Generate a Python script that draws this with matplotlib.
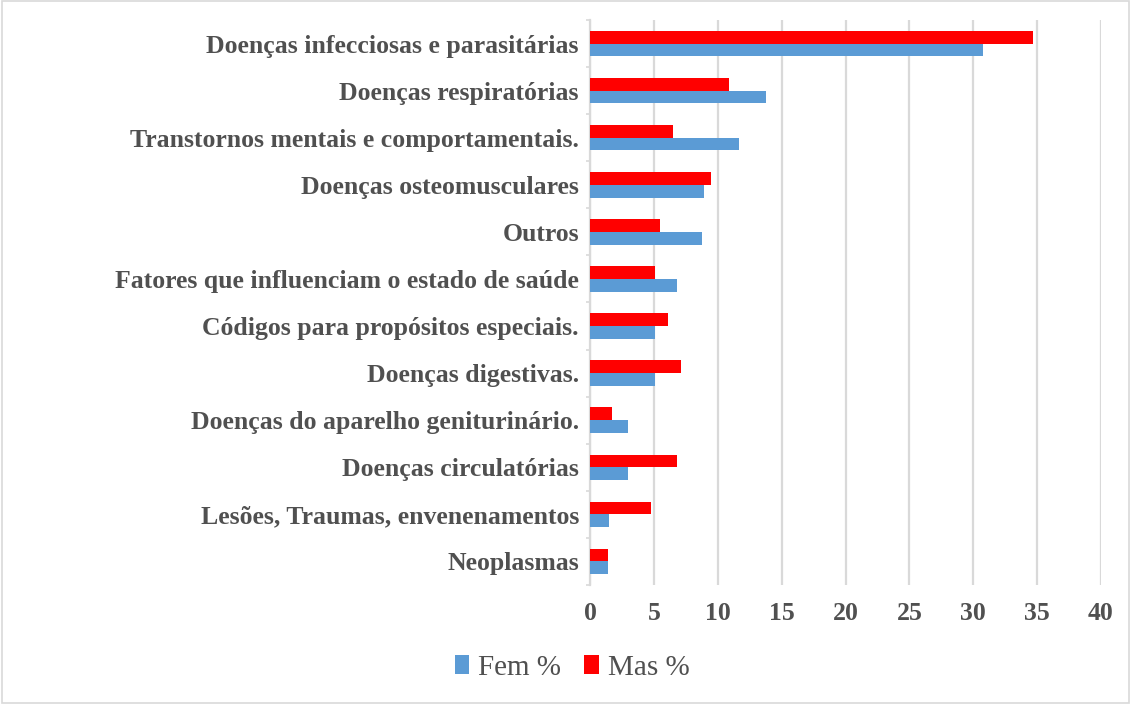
import matplotlib.pyplot as plt
import numpy as np
from matplotlib.patches import Rectangle

# categories top to bottom
categories = [
    "Doenças infecciosas e parasitárias",
    "Doenças respiratórias",
    "Transtornos mentais e comportamentais.",
    "Doenças osteomusculares",
    "Outros",
    "Fatores que influenciam o estado de saúde",
    "Códigos para propósitos especiais.",
    "Doenças digestivas.",
    "Doenças do aparelho geniturinário.",
    "Doenças circulatórias",
    "Lesões, Traumas, envenenamentos",
    "Neoplasmas",
]
fem_pct = [30.8, 13.8, 11.7, 8.9, 8.8, 6.8, 5.1, 5.1, 3.0, 3.0, 1.5, 1.4]
mas_pct = [34.7, 10.9, 6.5, 9.5, 5.5, 5.1, 6.1, 7.1, 1.7, 6.8, 4.8, 1.4]
x_ticks = [0, 5, 10, 15, 20, 25, 30, 35, 40]

FEM_COLOR = "#5b9bd5"
MAS_COLOR = "#ff0000"
GRID_COLOR = "#d9d9d9"
TEXT_COLOR = "#505050"

plt.rcParams["font.family"] = ["Liberation Serif", "DejaVu Serif"]

fig = plt.figure(figsize=(11.31, 7.04), dpi=100)
ax = fig.add_axes([590 / 1131, 1 - 585 / 704, 511 / 1131, 565 / 704])

n = len(categories)
y = np.arange(n)[::-1]
h = 0.27
ax.barh(y + h / 2, mas_pct, height=h, color=MAS_COLOR, label="Mas %", zorder=3)
ax.barh(y - h / 2, fem_pct, height=h, color=FEM_COLOR, label="Fem %", zorder=3)

ax.set_xlim(0, 40)
ax.set_ylim(-0.5, n - 0.5)
ax.set_xticks(x_ticks)
ax.set_xticklabels([str(t) for t in x_ticks], fontsize=18.5, fontweight="bold", color=TEXT_COLOR)
ax.set_yticks(y)
ax.set_yticklabels(categories, fontsize=18.5, fontweight="bold", color=TEXT_COLOR)
ax.set_yticks(np.arange(n + 1) - 0.5, minor=True)
ax.tick_params(axis="y", which="major", length=0, pad=8)
ax.tick_params(axis="y", which="minor", length=3, color=GRID_COLOR, width=1.2)
ax.tick_params(axis="x", length=0, pad=12)

ax.grid(True, axis="x", color=GRID_COLOR, linewidth=1.6, zorder=0)
for s in ("top", "right", "bottom"):
    ax.spines[s].set_visible(False)
ax.spines["left"].set_color(GRID_COLOR)
ax.spines["left"].set_linewidth(1.6)

handles, labels = ax.get_legend_handles_labels()
leg = fig.legend(handles[::-1], labels[::-1], loc="center",
                 bbox_to_anchor=(572 / 1131, 1 - 668 / 704),
                 ncol=2, frameon=False, fontsize=21, handlelength=0.5, handleheight=0.65,
                 columnspacing=0.8, handletextpad=0.3)
for t in leg.get_texts():
    t.set_color(TEXT_COLOR)

fig.patches.append(Rectangle((0.002, 0.002), 0.996, 0.996, transform=fig.transFigure,
                             fill=False, edgecolor=GRID_COLOR, linewidth=1.2))

fig.savefig("out.png", dpi=100)
